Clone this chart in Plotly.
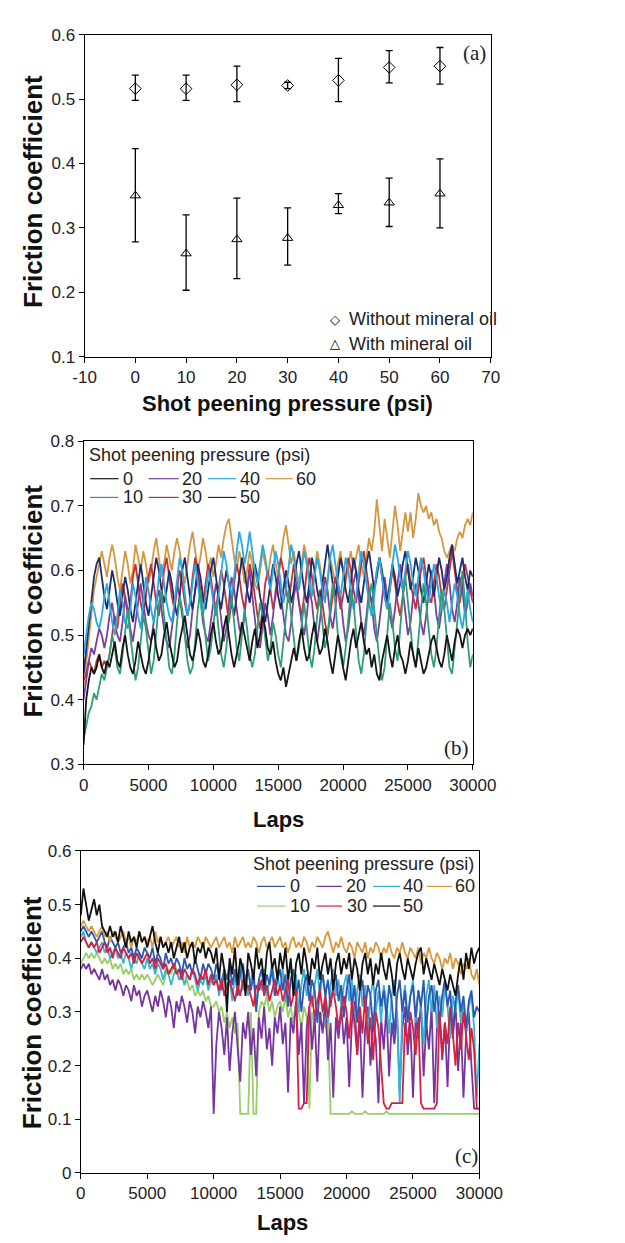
import plotly.graph_objects as go

W, H = 625, 1243

# ---------------- Panel (a) data ----------------
pressure = [0, 10, 20, 30, 40, 50, 60]
dry_mean = [0.516, 0.516, 0.522, 0.521, 0.529, 0.549, 0.551]
dry_hi = [0.537, 0.537, 0.551, 0.526, 0.563, 0.575, 0.580]
dry_lo = [0.498, 0.498, 0.496, 0.516, 0.496, 0.525, 0.523]
oil_mean = [0.350, 0.260, 0.282, 0.284, 0.335, 0.339, 0.353]
oil_hi = [0.423, 0.320, 0.346, 0.331, 0.353, 0.377, 0.407]
oil_lo = [0.278, 0.203, 0.221, 0.242, 0.322, 0.302, 0.300]
a_xticks = [-10, 0, 10, 20, 30, 40, 50, 60, 70]
a_xticklabels = ["-10", "0", "10", "20", "30", "40", "50", "60", "70"]

# ---------------- Panels (b), (c): friction vs laps ----------------
LAPS = list(range(0, 30001, 200))
lap_ticks = [0, 5000, 10000, 15000, 20000, 25000, 30000]
lap_ticklabels = ["0", "5000", "10000", "15000", "20000", "25000", "30000"]

b_0 = [.33,.40,.43,.45,.44,.45,.47,.45,.44,.46,.45,.47,.49,.46,.45,.48,.50,.47,.45,.44,.46,.49,.47,.45,.44,
       .46,.49,.51,.48,.46,.47,.50,.52,.49,.47,.45,.46,.49,.51,.53,.50,.47,.46,.48,.51,.49,.46,.45,.47,.50,
       .52,.49,.47,.48,.51,.53,.50,.47,.45,.47,.49,.52,.50,.48,.46,.49,.51,.48,.50,.53,.51,.48,.47,.49,.46,
       .44,.43,.45,.42,.44,.46,.48,.46,.49,.51,.48,.46,.47,.50,.52,.49,.47,.48,.51,.49,.46,.44,.47,.50,.48,
       .45,.43,.46,.49,.51,.48,.50,.52,.49,.47,.48,.45,.47,.44,.43,.46,.48,.50,.47,.45,.48,.50,.47,.46,.44,
       .46,.49,.47,.45,.48,.46,.44,.45,.47,.49,.50,.48,.46,.45,.47,.50,.48,.46,.49,.51,.50,.48,.50,.51,.50,
       .51]
b_10 = [.34,.36,.38,.39,.41,.40,.42,.44,.43,.45,.47,.50,.48,.45,.44,.47,.51,.54,.50,.46,.43,.45,.49,.53,.51,
        .47,.44,.46,.50,.55,.57,.53,.48,.45,.44,.47,.52,.56,.54,.50,.46,.44,.45,.49,.54,.57,.53,.49,.46,.48,
        .52,.55,.51,.47,.45,.48,.53,.56,.52,.48,.46,.50,.54,.51,.47,.45,.47,.51,.55,.53,.49,.46,.48,.52,.50,
        .47,.45,.49,.54,.57,.53,.49,.46,.48,.52,.55,.51,.47,.45,.48,.53,.56,.52,.48,.50,.54,.58,.55,.50,.47,
        .45,.48,.53,.57,.55,.50,.46,.44,.47,.52,.56,.58,.54,.49,.46,.43,.45,.50,.55,.52,.48,.46,.51,.56,.59,
        .55,.50,.47,.45,.49,.54,.58,.55,.51,.47,.45,.48,.53,.57,.54,.49,.45,.44,.48,.53,.57,.60,.55,.49,.45,
        .47]
b_20 = [.40,.43,.46,.48,.47,.49,.51,.50,.48,.50,.53,.55,.52,.50,.49,.52,.56,.54,.51,.49,.52,.55,.58,.55,.52,
        .50,.49,.52,.55,.57,.54,.51,.49,.48,.51,.54,.58,.56,.53,.50,.48,.50,.54,.57,.59,.55,.52,.50,.49,.52,
        .55,.58,.56,.52,.49,.51,.55,.59,.57,.54,.51,.50,.53,.57,.60,.56,.52,.49,.48,.52,.55,.53,.50,.53,.57,
        .59,.56,.53,.50,.49,.52,.56,.58,.55,.52,.50,.53,.57,.55,.51,.49,.52,.56,.59,.57,.53,.51,.54,.58,.56,
        .52,.49,.51,.55,.58,.60,.56,.52,.50,.53,.57,.55,.51,.49,.52,.56,.59,.56,.53,.51,.54,.58,.61,.57,.53,
        .50,.52,.56,.58,.55,.52,.50,.53,.57,.60,.57,.53,.51,.54,.58,.61,.58,.54,.52,.55,.59,.57,.53,.55,.58,
        .56]
b_30 = [.43,.44,.46,.45,.44,.46,.47,.45,.46,.45,.47,.50,.53,.51,.55,.58,.56,.53,.55,.59,.61,.58,.55,.53,.56,
        .59,.61,.58,.55,.53,.56,.60,.62,.59,.56,.54,.57,.60,.58,.55,.53,.55,.59,.62,.60,.57,.55,.58,.61,.59,
        .56,.54,.57,.60,.58,.55,.52,.55,.58,.61,.59,.56,.54,.57,.61,.59,.56,.53,.51,.54,.58,.60,.57,.54,.56,
        .59,.62,.60,.57,.55,.58,.61,.58,.55,.53,.56,.60,.62,.59,.56,.54,.57,.55,.52,.50,.53,.56,.59,.57,.54,
        .56,.59,.62,.60,.57,.55,.58,.61,.63,.60,.57,.55,.57,.60,.62,.59,.56,.54,.57,.60,.58,.55,.53,.56,.59,
        .61,.58,.56,.54,.57,.60,.62,.59,.56,.55,.58,.61,.59,.56,.54,.57,.60,.63,.60,.57,.55,.58,.61,.59,.57,
        .55]
b_40 = [.47,.50,.53,.55,.54,.52,.51,.53,.56,.58,.55,.52,.50,.53,.57,.55,.52,.51,.54,.58,.56,.53,.51,.55,.59,
        .57,.54,.52,.55,.59,.61,.58,.55,.53,.52,.55,.59,.62,.60,.56,.53,.55,.58,.61,.58,.55,.53,.56,.60,.58,
        .55,.53,.56,.60,.63,.61,.58,.56,.59,.63,.66,.64,.61,.63,.66,.63,.60,.58,.61,.64,.62,.59,.57,.60,.63,
        .61,.58,.55,.57,.61,.64,.62,.59,.57,.60,.63,.61,.58,.56,.59,.62,.60,.57,.55,.58,.62,.64,.61,.58,.56,
        .59,.62,.60,.57,.54,.56,.60,.63,.61,.58,.55,.53,.56,.60,.62,.59,.56,.54,.57,.61,.64,.62,.59,.57,.60,
        .63,.61,.58,.56,.59,.62,.60,.57,.55,.58,.61,.59,.56,.54,.57,.55,.52,.55,.58,.56,.53,.51,.54,.57,.54,
        .52]
b_50 = [.44,.48,.52,.56,.59,.61,.62,.59,.56,.54,.57,.60,.58,.55,.53,.56,.59,.57,.54,.52,.55,.58,.61,.58,.55,
        .53,.56,.59,.62,.60,.57,.55,.57,.60,.58,.55,.53,.56,.60,.62,.59,.56,.54,.57,.61,.59,.56,.54,.57,.60,
        .62,.59,.56,.54,.57,.60,.58,.55,.53,.56,.59,.62,.60,.57,.55,.58,.61,.59,.56,.54,.52,.55,.58,.61,.59,
        .56,.54,.57,.60,.58,.55,.57,.61,.63,.60,.57,.55,.58,.62,.60,.57,.55,.58,.61,.64,.61,.58,.56,.59,.62,
        .60,.57,.55,.58,.62,.60,.57,.55,.58,.61,.63,.60,.57,.59,.62,.60,.57,.55,.58,.61,.59,.56,.58,.61,.63,
        .60,.57,.59,.62,.60,.57,.55,.58,.61,.59,.56,.59,.62,.60,.57,.59,.62,.64,.61,.58,.60,.62,.59,.57,.60,
        .59]
b_60 = [.42,.46,.50,.54,.57,.59,.61,.63,.61,.59,.62,.64,.62,.59,.57,.60,.63,.61,.58,.60,.64,.62,.60,.63,.61,
        .58,.60,.63,.65,.62,.59,.61,.64,.62,.60,.63,.65,.63,.60,.58,.61,.64,.66,.63,.60,.62,.65,.63,.60,.62,
        .59,.61,.64,.62,.65,.67,.68,.65,.62,.60,.63,.61,.58,.60,.63,.61,.58,.57,.60,.63,.61,.59,.62,.64,.61,
        .59,.62,.65,.67,.64,.61,.63,.60,.58,.61,.64,.62,.59,.57,.60,.63,.61,.58,.56,.59,.62,.60,.58,.61,.63,
        .60,.58,.61,.63,.60,.62,.64,.61,.59,.62,.65,.63,.66,.71,.67,.63,.68,.65,.62,.66,.70,.67,.63,.66,.69,
        .66,.69,.65,.68,.72,.70,.69,.70,.68,.69,.67,.68,.66,.65,.63,.62,.63,.64,.63,.65,.66,.65,.67,.68,.67,
        .69]

c_0 = [.45,.46,.45,.44,.45,.44,.43,.44,.45,.43,.42,.44,.43,.42,.43,.41,.42,.43,.41,.42,.40,.42,.41,.40,.42,
       .41,.40,.42,.39,.41,.40,.38,.41,.39,.40,.38,.40,.39,.37,.40,.38,.39,.37,.40,.38,.36,.39,.37,.39,.38,
       .36,.39,.37,.34,.38,.36,.39,.35,.38,.33,.37,.39,.35,.38,.34,.37,.30,.36,.38,.34,.37,.35,.38,.33,.36,
       .38,.34,.37,.31,.36,.38,.33,.36,.30,.35,.37,.32,.36,.34,.28,.35,.37,.33,.36,.31,.35,.37,.32,.35,.29,
       .34,.37,.31,.35,.28,.34,.36,.30,.35,.33,.27,.34,.36,.31,.34,.29,.35,.32,.26,.33,.36,.30,.34,.28,.33,
       .35,.29,.34,.31,.36,.27,.33,.35,.30,.34,.28,.33,.36,.31,.34,.26,.32,.35,.30,.33,.27,.32,.34,.29,.31,
       .30]
c_10 = [.39,.40,.41,.40,.41,.40,.41,.40,.39,.40,.39,.40,.38,.39,.38,.39,.37,.38,.37,.38,.36,.37,.36,.37,.36,
        .37,.36,.35,.36,.37,.36,.35,.37,.38,.37,.39,.38,.36,.37,.35,.36,.34,.35,.33,.34,.33,.34,.32,.33,.31,
        .31,.32,.30,.31,.28,.30,.27,.29,.26,.28,.11,.11,.11,.11,.30,.11,.11,.30,.32,.31,.33,.30,.32,.29,.31,
        .32,.30,.33,.29,.31,.28,.32,.30,.27,.31,.29,.12,.30,.28,.31,.29,.30,.27,.29,.11,.11,.11,.11,.11,.11,
        .11,.11,.115,.11,.11,.11,.11,.115,.11,.11,.11,.11,.11,.11,.11,.115,.11,.11,.11,.11,.11,.11,.11,.11,.11,
        .11,.11,.11,.11,.11,.11,.11,.11,.11,.11,.11,.11,.11,.11,.11,.11,.11,.11,.11,.11,.11,.11,.11,.11,.11,
        .11]
c_20 = [.38,.39,.38,.39,.37,.38,.37,.36,.38,.36,.37,.35,.36,.34,.36,.35,.33,.35,.34,.32,.35,.33,.34,.31,.33,
        .34,.32,.30,.33,.31,.34,.32,.29,.33,.31,.27,.32,.30,.33,.31,.28,.32,.30,.26,.31,.29,.32,.30,.27,.31,
        .11,.24,.30,.27,.22,.29,.19,.26,.30,.24,.17,.28,.25,.30,.22,.27,.18,.29,.25,.31,.23,.27,.20,.29,.26,
        .31,.24,.28,.15,.29,.26,.32,.22,.28,.13,.27,.31,.23,.29,.17,.30,.26,.32,.21,.28,.14,.29,.25,.31,.24,
        .29,.16,.28,.32,.22,.29,.14,.27,.31,.20,.28,.25,.13,.29,.23,.31,.18,.28,.24,.30,.15,.27,.31,.22,.28,
        .14,.29,.25,.32,.18,.28,.23,.31,.13,.27,.30,.21,.28,.16,.30,.25,.32,.19,.28,.14,.26,.30,.20,.12,.12,
        .12]
c_30 = [.43,.44,.43,.42,.43,.42,.43,.41,.42,.43,.41,.42,.40,.42,.41,.40,.42,.41,.40,.41,.39,.41,.40,.39,.40,
        .41,.39,.40,.38,.40,.39,.38,.39,.37,.38,.39,.37,.38,.36,.38,.37,.36,.38,.37,.35,.37,.36,.38,.35,.37,
        .35,.36,.34,.36,.33,.35,.36,.34,.32,.35,.33,.36,.34,.35,.33,.31,.35,.34,.36,.33,.35,.32,.34,.36,.33,
        .35,.32,.34,.36,.31,.33,.34,.12,.12,.13,.13,.31,.33,.29,.32,.34,.30,.33,.29,.32,.34,.31,.27,.30,.33,
        .30,.25,.32,.28,.22,.31,.26,.33,.24,.29,.21,.30,.27,.20,.13,.12,.12,.13,.13,.13,.13,.13,.28,.24,.30,
        .27,.22,.29,.13,.12,.12,.12,.12,.12,.13,.30,.22,.28,.24,.31,.26,.20,.28,.23,.30,.26,.21,.27,.23,.12,
        .12]
c_40 = [.44,.45,.43,.42,.43,.42,.41,.42,.43,.41,.42,.40,.41,.42,.40,.41,.39,.41,.40,.38,.40,.39,.41,.39,.38,
        .40,.38,.39,.37,.39,.38,.36,.38,.37,.35,.37,.38,.36,.37,.35,.37,.36,.38,.36,.34,.36,.35,.37,.34,.36,
        .35,.37,.33,.36,.38,.34,.36,.32,.37,.35,.39,.34,.37,.33,.36,.38,.31,.36,.34,.38,.33,.36,.39,.35,.37,
        .34,.38,.32,.36,.39,.34,.37,.30,.35,.38,.33,.36,.31,.35,.38,.33,.37,.34,.28,.35,.38,.33,.36,.31,.35,
        .37,.32,.36,.27,.34,.37,.31,.35,.25,.33,.36,.30,.34,.28,.35,.32,.26,.33,.36,.30,.13,.31,.35,.29,.33,
        .36,.28,.34,.31,.24,.33,.36,.30,.35,.27,.33,.29,.35,.31,.25,.33,.30,.34,.28,.32,.26,.31,.33,.27,.14,
        .24]
c_50 = [.48,.53,.50,.47,.49,.51,.48,.50,.46,.45,.44,.46,.44,.45,.43,.46,.44,.42,.45,.43,.44,.42,.45,.43,.44,
        .42,.44,.46,.43,.41,.44,.42,.43,.41,.43,.40,.42,.44,.41,.43,.40,.42,.43,.39,.42,.41,.43,.40,.42,.41,
        .39,.42,.36,.41,.38,.30,.40,.37,.42,.35,.40,.38,.33,.41,.39,.36,.42,.38,.40,.35,.41,.43,.38,.40,.36,
        .41,.38,.42,.36,.40,.33,.39,.41,.37,.42,.39,.35,.40,.38,.42,.36,.39,.41,.37,.40,.34,.39,.41,.37,.40,
        .38,.41,.36,.40,.38,.34,.39,.41,.37,.40,.35,.39,.37,.41,.38,.36,.40,.37,.33,.39,.41,.38,.36,.40,.38,
        .36,.39,.41,.42,.37,.40,.38,.36,.39,.37,.35,.38,.36,.34,.37,.35,.33,.37,.40,.36,.41,.38,.42,.39,.41,
        .42]
c_60 = [.46,.47,.46,.45,.46,.45,.44,.45,.46,.44,.45,.43,.45,.44,.43,.44,.45,.43,.44,.42,.44,.43,.45,.43,.44,
        .43,.44,.42,.45,.43,.44,.42,.43,.44,.42,.43,.44,.42,.43,.41,.44,.42,.43,.42,.44,.43,.42,.44,.43,.42,
        .43,.44,.42,.43,.44,.42,.43,.41,.44,.42,.43,.44,.42,.43,.42,.44,.43,.41,.43,.44,.42,.43,.44,.42,.43,
        .44,.42,.43,.41,.43,.44,.42,.43,.42,.44,.43,.41,.43,.42,.44,.43,.42,.44,.45,.43,.41,.43,.42,.44,.42,
        .41,.43,.42,.40,.43,.42,.41,.43,.40,.42,.41,.43,.42,.40,.42,.41,.43,.41,.40,.42,.41,.43,.41,.40,.42,
        .41,.40,.42,.39,.41,.40,.42,.40,.39,.41,.40,.38,.40,.39,.41,.38,.40,.39,.37,.39,.38,.40,.37,.36,.38,
        .35]

b_series = {"0": b_0, "10": b_10, "20": b_20, "30": b_30, "40": b_40, "50": b_50, "60": b_60}
c_series = {"0": c_0, "10": c_10, "20": c_20, "30": c_30, "40": c_40, "50": c_50, "60": c_60}
b_colors = {"0": "#161616", "10": "#2e9e78", "20": "#7b3f9e", "30": "#c8302f",
            "40": "#29a9e1", "50": "#1f2d6e", "60": "#d4973f"}
c_colors = {"0": "#2f57b0", "10": "#9acd6a", "20": "#7534a0", "30": "#d4213f",
            "40": "#33b5d6", "50": "#111111", "60": "#d99a3e"}
b_order = ["60", "30", "20", "50", "40", "10", "0"]
c_order = ["10", "20", "40", "0", "30", "60", "50"]

REG = "Liberation Sans, Arial, sans-serif"
SERIF = "Liberation Serif, Times New Roman, serif"


def X(px):
    return px / W


def Y(py):
    return 1 - py / H


fig = go.Figure()

# Panel (a)
fig.add_trace(go.Scatter(
    x=pressure, y=dry_mean, mode="markers", xaxis="x", yaxis="y",
    marker=dict(symbol="diamond-open", size=9, color="black", line=dict(width=1)),
    error_y=dict(type="data", symmetric=False,
                 array=[h - m for h, m in zip(dry_hi, dry_mean)],
                 arrayminus=[m - l for m, l in zip(dry_mean, dry_lo)],
                 color="black", thickness=1.3, width=3.5),
    showlegend=False, name="Without mineral oil"))
fig.add_trace(go.Scatter(
    x=pressure, y=oil_mean, mode="markers", xaxis="x", yaxis="y",
    marker=dict(symbol="triangle-up-open", size=9, color="black", line=dict(width=1)),
    error_y=dict(type="data", symmetric=False,
                 array=[h - m for h, m in zip(oil_hi, oil_mean)],
                 arrayminus=[m - l for m, l in zip(oil_mean, oil_lo)],
                 color="black", thickness=1.3, width=3.5),
    showlegend=False, name="With mineral oil"))

for k in b_order:
    v = b_series[k][:len(LAPS)]
    fig.add_trace(go.Scatter(x=LAPS[:len(v)], y=v, mode="lines", xaxis="x2", yaxis="y2",
                             line=dict(color=b_colors[k], width=1.8), showlegend=False, name=k))
for k in c_order:
    v = c_series[k][:len(LAPS)]
    fig.add_trace(go.Scatter(x=LAPS[:len(v)], y=v, mode="lines", xaxis="x3", yaxis="y3",
                             line=dict(color=c_colors[k], width=1.8), showlegend=False, name=k))

axis_common = dict(showline=True, linecolor="black", linewidth=1, mirror=True,
                   ticks="outside", ticklen=5, tickwidth=1, tickcolor="black",
                   showgrid=False, zeroline=False,
                   tickfont=dict(family=REG, size=17, color="#222"))

fig.update_layout(
    width=W, height=H, margin=dict(l=0, r=0, t=0, b=0),
    paper_bgcolor="white", plot_bgcolor="white",
    xaxis=dict(domain=[X(77), X(508)], range=[-10, 70], tickvals=a_xticks,
               ticktext=a_xticklabels, anchor="y", **axis_common),
    yaxis=dict(domain=[Y(353), Y(26)], range=[0.1, 0.6], dtick=0.1, anchor="x", **axis_common),
    xaxis2=dict(domain=[X(76), X(489)], range=[0, 30000], tickvals=lap_ticks,
                ticktext=lap_ticklabels, anchor="y2", **axis_common),
    yaxis2=dict(domain=[Y(767), Y(439)], range=[0.3, 0.8], dtick=0.1, anchor="x2", **axis_common),
    xaxis3=dict(domain=[X(73), X(496)], range=[0, 30000], tickvals=lap_ticks,
                ticktext=lap_ticklabels, anchor="y3", **axis_common),
    yaxis3=dict(domain=[Y(1182), Y(855)], range=[0, 0.6], dtick=0.1, anchor="x3", **axis_common),
)

ann = []
shapes = []


def text(px, py, s, size, family=REG, weight="normal", angle=0, xanchor="center", color="#222"):
    ann.append(dict(x=X(px), y=Y(py), xref="paper", yref="paper", text=s, showarrow=False,
                    xanchor=xanchor, yanchor="middle", textangle=angle, borderpad=0,
                    font=dict(family=family, size=size, weight=weight, color=color)))


# axis titles
for yc in (185, 601, 1019):
    text(22, yc, "Friction coefficient", 26, weight="bold", angle=-90, color="#111")
text(292, 401, "Shot peening pressure (psi)", 22, weight="bold", color="#111")
text(283, 823, "Laps", 22, weight="bold", color="#111")
text(287, 1232, "Laps", 22, weight="bold", color="#111")

# panel labels
text(491, 45, "(a)", 21, family=SERIF)
text(472, 750, "(b)", 21, family=SERIF)
text(482, 1165, "(c)", 21, family=SERIF)

# legend (a)
text(343, 315, "◇", 13, family="DejaVu Sans", color="black")
text(343, 340, "△", 13, family="DejaVu Sans", color="black")
text(357, 315, "Without mineral oil", 18, xanchor="left")
text(357, 340, "With mineral oil", 18, xanchor="left")


def legend_block(title_x, title_y, row_y, slots, colors):
    text(title_x, title_y, "Shot peening pressure (psi)", 18, xanchor="left")
    for lab, (row, x0, x1, tx) in slots.items():
        yy = row_y[row]
        shapes.append(dict(type="line", xref="paper", yref="paper", x0=X(x0), x1=X(x1),
                           y0=Y(yy), y1=Y(yy), line=dict(color=colors[lab], width=1.2)))
        text(tx, yy, lab, 18, xanchor="left")


legend_block(81, 453, [477, 496],
             {"0": (0, 83, 113, 117), "20": (0, 145, 177, 179), "40": (0, 208, 238, 241),
              "60": (0, 269, 298, 300), "10": (1, 83, 113, 117), "30": (1, 145, 177, 179),
              "50": (1, 208, 238, 241)}, b_colors)
legend_block(255, 868, [891, 911],
             {"0": (0, 260, 290, 294), "20": (0, 323, 350, 353), "40": (0, 383, 412, 414),
              "60": (0, 440, 467, 469), "10": (1, 260, 290, 294), "30": (1, 323, 350, 354),
              "50": (1, 383, 412, 414)}, c_colors)

fig.update_layout(annotations=ann, shapes=shapes)
fig.write_html("out.html")
